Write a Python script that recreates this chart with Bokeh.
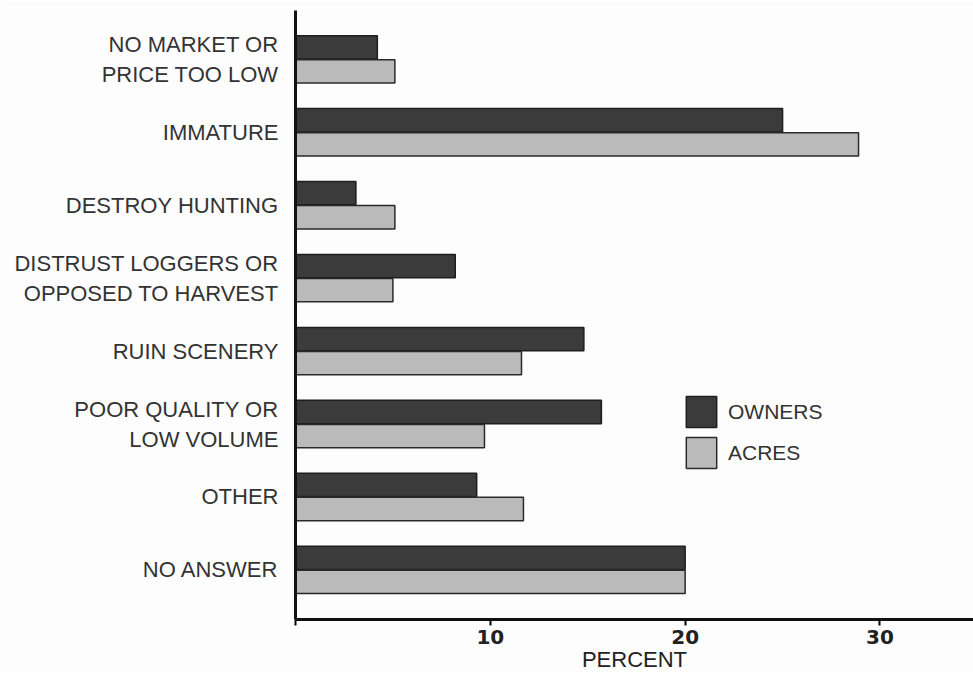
from bokeh.plotting import figure
from bokeh.models import Range1d, FixedTicker, Legend, LegendItem, ColumnDataSource
from bokeh.embed import file_html
from bokeh.resources import INLINE

categories = ["NO MARKET OR\nPRICE TOO LOW", "IMMATURE", "DESTROY HUNTING",
              "DISTRUST LOGGERS OR\nOPPOSED TO HARVEST", "RUIN SCENERY",
              "POOR QUALITY OR\nLOW VOLUME", "OTHER", "NO ANSWER"]
owners = [4.2, 25.0, 3.1, 8.2, 14.8, 15.7, 9.3, 20.0]
acres = [5.1, 28.9, 5.1, 5.0, 11.6, 9.7, 11.7, 20.0]
x_ticks = [0, 10, 20, 30]
x_tick_labels = {0: "", 10: "10", 20: "20", 30: "30"}

n = len(categories)
pos = [n - 1 - i for i in range(n)]
off = 0.165
src_o = ColumnDataSource(dict(y=[p + off for p in pos], v=owners))
src_a = ColumnDataSource(dict(y=[p - off for p in pos], v=acres))

p = figure(width=973, height=674, output_backend="svg", toolbar_location=None,
           x_range=Range1d(0, 34.8), y_range=Range1d(-0.68, n - 1 + 0.67),
           min_border_left=295, min_border_right=0, min_border_top=10,
           min_border_bottom=54, background_fill_color="#fdfdfd",
           border_fill_color="#fdfdfd", outline_line_color=None)
p.grid.visible = False

ro = p.hbar(y="y", right="v", left=0, height=0.32, source=src_o,
            fill_color="#3b3b3b", line_color="#1e1e1e", line_width=1.5)
ra = p.hbar(y="y", right="v", left=0, height=0.32, source=src_a,
            fill_color="#bababa", line_color="#2a2a2a", line_width=1.5)

# x axis
xa = p.xaxis[0]
xa.ticker = FixedTicker(ticks=x_ticks)
xa.major_label_overrides = x_tick_labels
xa.axis_line_width = 3
xa.axis_line_color = "#111111"
xa.major_tick_in = 0
xa.major_tick_out = 6
xa.major_tick_line_width = 2
xa.minor_tick_line_color = None
xa.major_label_text_font = "DejaVu Sans"
xa.major_label_text_font_style = "bold"
xa.major_label_text_font_size = "20px"
xa.major_label_text_color = "#222222"
xa.major_label_standoff = 4
xa.axis_label = "PERCENT"
xa.axis_label_text_font = "Liberation Sans"
xa.axis_label_text_font_style = "normal"
xa.axis_label_text_font_size = "22px"
xa.axis_label_text_color = "#222222"
xa.axis_label_standoff = 0

# y axis
ya = p.yaxis[0]
ya.ticker = FixedTicker(ticks=pos)
ya.major_label_overrides = {pp: c for pp, c in zip(pos, categories)}
ya.axis_line_width = 3
ya.axis_line_color = "#111111"
ya.major_tick_line_color = None
ya.minor_tick_line_color = None
ya.major_label_text_font = "Liberation Sans"
ya.major_label_text_font_size = "22px"
ya.major_label_text_color = "#333333"
ya.major_label_standoff = 11

legend = Legend(items=[LegendItem(label="OWNERS", renderers=[ro]),
                       LegendItem(label="ACRES", renderers=[ra])],
                location=(387, 147), orientation="vertical",
                glyph_width=38, glyph_height=39, spacing=2, padding=0, margin=0,
                label_standoff=8, label_text_font="Liberation Sans",
                label_text_font_size="21px", label_text_color="#333333",
                border_line_alpha=0, background_fill_alpha=0)
p.add_layout(legend)

open("out.html", "w").write(file_html(p, INLINE))
